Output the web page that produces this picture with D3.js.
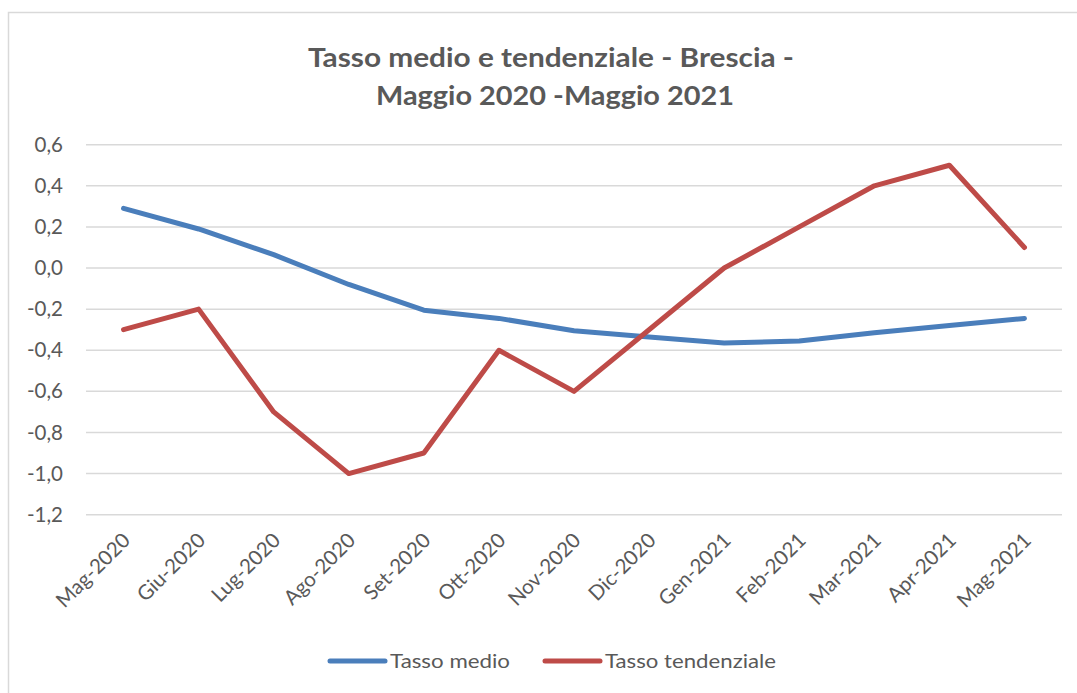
<!DOCTYPE html>
<html>
<head>
<meta charset="utf-8">
<script src="https://cdn.jsdelivr.net/npm/d3@7"></script>
<style>
html,body{margin:0;padding:0;background:#fff;}
svg{display:block;}
text{font-family:Lato,"Open Sans",sans-serif;fill:#595959;}
</style>
</head>
<body>
<svg id="chart" width="1077" height="693"></svg>
<script>
const months = ["Mag-2020","Giu-2020","Lug-2020","Ago-2020","Set-2020","Ott-2020","Nov-2020","Dic-2020","Gen-2021","Feb-2021","Mar-2021","Apr-2021","Mag-2021"];
const tassoMedio = [0.29, 0.19, 0.065, -0.08, -0.205, -0.245, -0.305, -0.335, -0.365, -0.355, -0.315, -0.28, -0.245];
const tassoTendenziale = [-0.3, -0.2, -0.7, -1.0, -0.9, -0.4, -0.6, -0.3, 0.0, 0.2, 0.4, 0.5, 0.1];
const yTicks = [0.6, 0.4, 0.2, 0.0, -0.2, -0.4, -0.6, -0.8, -1.0, -1.2];
const seriesNames = ["Tasso medio", "Tasso tendenziale"];
const seriesColors = ["#4a7ebb", "#be4b48"];
const titleLines = ["Tasso medio e tendenziale - Brescia -", "Maggio 2020 -Maggio 2021"];

const svg = d3.select("#chart");

// chart frame
svg.append("rect").attr("x", 8.5).attr("y", 12.5).attr("width", 1200).attr("height", 800)
  .attr("fill", "#fff").attr("stroke", "#d9d9d9").attr("stroke-width", 1.5);

const x = d3.scaleBand().domain(months).range([86, 1062]);
const y = d3.scaleLinear().domain([-1.2, 0.6]).range([514.7, 144.7]);

// gridlines
svg.append("g").selectAll("line").data(yTicks).join("line")
  .attr("x1", 86).attr("x2", 1062)
  .attr("y1", d => y(d)).attr("y2", d => y(d))
  .attr("stroke", "#d9d9d9").attr("stroke-width", 1.5);

// y axis
const yAxis = d3.axisLeft(y).tickValues(yTicks)
  .tickFormat(d => d3.format(".1f")(d).replace(".", ",").replace("−", "-"))
  .tickSize(0).tickPadding(0);
const gy = svg.append("g").attr("transform", "translate(63,0)").call(yAxis);
gy.select(".domain").remove();
gy.selectAll("text").attr("font-size", 20.5).attr("fill", "#595959")
  .style("font-family", "Lato, 'Open Sans', sans-serif");

// x axis
const xAxis = d3.axisBottom(x).tickSize(0).tickPadding(0);
const gx = svg.append("g").attr("transform", "translate(0,514.7)").call(xAxis);
gx.select(".domain").remove();
gx.selectAll("text")
  .attr("font-size", 20.5).attr("fill", "#595959")
  .style("font-family", "Lato, 'Open Sans', sans-serif")
  .attr("text-anchor", "end")
  .attr("dy", 0)
  .attr("y", 0)
  .attr("transform", "translate(8,27) rotate(-45)");

// lines
const line = d3.line().x((d, i) => x(months[i]) + x.bandwidth() / 2).y(d => y(d));
[tassoMedio, tassoTendenziale].forEach((s, k) => {
  svg.append("path").datum(s)
    .attr("d", line)
    .attr("fill", "none")
    .attr("stroke", seriesColors[k])
    .attr("stroke-width", 5)
    .attr("stroke-linejoin", "round")
    .attr("stroke-linecap", "round");
});

// title
const title = svg.append("g");
title.append("text").attr("x", 551).attr("y", 67).attr("text-anchor", "middle")
  .attr("font-size", 27).attr("font-weight", "bold")
  .attr("textLength", 486).attr("lengthAdjust", "spacingAndGlyphs")
  .text(titleLines[0]);
title.append("text").attr("x", 555).attr("y", 105).attr("text-anchor", "middle")
  .attr("font-size", 27).attr("font-weight", "bold")
  .attr("textLength", 358).attr("lengthAdjust", "spacingAndGlyphs")
  .text(titleLines[1]);

// legend
const legendX = [330, 545];
const legendTextLen = [120, 171];
const lg = svg.append("g");
seriesNames.forEach((n, k) => {
  lg.append("line").attr("x1", legendX[k]).attr("x2", legendX[k] + 55)
    .attr("y1", 661).attr("y2", 661)
    .attr("stroke", seriesColors[k]).attr("stroke-width", 5).attr("stroke-linecap", "round");
  lg.append("text").attr("x", legendX[k] + 60).attr("y", 668)
    .attr("font-size", 20)
    .attr("textLength", legendTextLen[k]).attr("lengthAdjust", "spacingAndGlyphs")
    .text(n);
});
</script>
</body>
</html>
